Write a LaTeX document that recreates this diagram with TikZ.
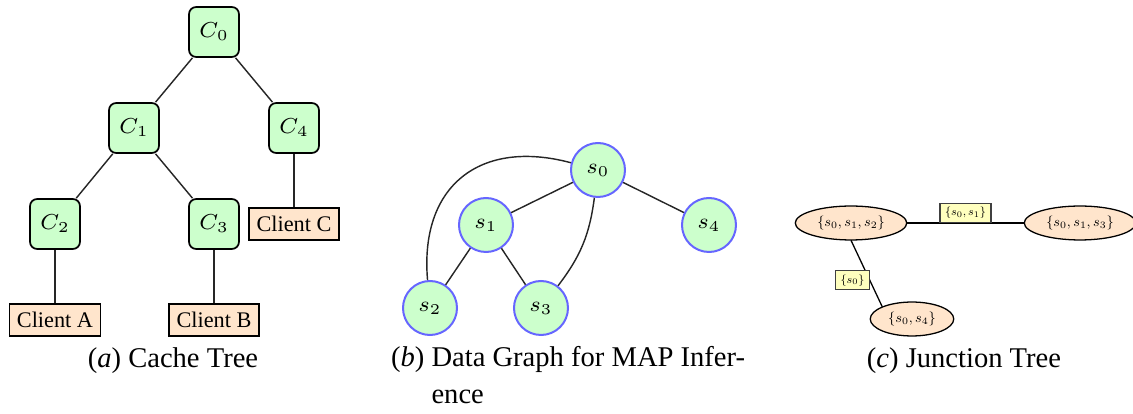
\RequirePackage{fix-cm}
\documentclass[tikz,border=0pt]{standalone}
\usepackage{fontspec}
\setmainfont{Liberation Serif}
\usetikzlibrary{shapes.geometric}

\begin{document}
\begin{tikzpicture}[x=0.35pt, y=-0.35pt,
  cache/.style={draw, semithick, rounded corners=2.5pt, fill=cachefill,
    minimum size=17.5pt, inner sep=0pt, font=\fontsize{7.6}{9}\selectfont},
  client/.style={draw, semithick, fill=clientfill, minimum height=11pt,
    inner xsep=2.6pt, inner ysep=0pt, font=\fontsize{7.8}{9}\selectfont},
  var/.style={circle, draw=varline, line width=0.7pt, fill=cachefill,
    minimum size=18.9pt, inner sep=0pt, font=\fontsize{7.5}{9}\selectfont},
  clique/.style={ellipse, draw, line width=0.45pt, fill=clientfill,
    scale=0.5, transform shape, inner xsep=4pt, inner ysep=3.5pt,
    font=\fontsize{9.8}{11}\selectfont},
  sepset/.style={draw=black!75, line width=0.4pt, fill=sepfill,
    scale=0.5, transform shape, inner xsep=3.6pt, inner ysep=2.7pt,
    font=\fontsize{8}{9}\selectfont},
  edge/.style={line width=0.5pt, black!85},
  caption/.style={font=\fontsize{10}{13}\selectfont, anchor=base}]
  \definecolor{cachefill}{RGB}{204,255,204}
  \definecolor{clientfill}{RGB}{255,229,204}
  \definecolor{sepfill}{RGB}{255,255,190}
  \definecolor{varline}{RGB}{102,102,255}

  \useasboundingbox (0,0) rectangle (1133,414);

  % cache tree
  \node[cache] (c0) at (214,32) {$C_0$};
  \node[cache] (c1) at (134,128) {$C_1$};
  \node[cache] (c4) at (294,128) {$C_4$};
  \node[cache] (c2) at (55,224) {$C_2$};
  \node[cache] (c3) at (214,224) {$C_3$};
  \node[client] (clientc) at (294,224) {Client C};
  \node[client] (clienta) at (55,320) {Client A};
  \node[client] (clientb) at (214,320) {Client B};

  \draw[edge] (c0) -- (c1);
  \draw[edge] (c0) -- (c4);
  \draw[edge] (c1) -- (c2);
  \draw[edge] (c1) -- (c3);
  \draw[edge] (c2) -- (clienta);
  \draw[edge] (c3) -- (clientb);
  \draw[edge] (c4) -- (clientc);

  \node[caption] (capa) at (173,368) {(\textit{a}) Cache Tree};

  % data graph
  \node[var] (s0) at (598,170) {$s_0$};
  \node[var] (s1) at (486,225) {$s_1$};
  \node[var] (s4) at (709,225) {$s_4$};
  \node[var] (s2) at (430,308) {$s_2$};
  \node[var] (s3) at (541,308) {$s_3$};

  \draw[edge] (s0) -- (s1);
  \draw[edge] (s0) -- (s4);
  \draw[edge] (s1) -- (s2);
  \draw[edge] (s1) -- (s3);
  \draw[edge] (s0) to[bend left=15] (s3);
  \draw[edge] (s0) to[out=165, in=95, looseness=1.3] (s2);

  \node[caption, anchor=base west, align=left] (capb) at (381,404)
    {(\textit{b}) Data Graph for MAP Infer-\\\hphantom{(\textit{b})\ }ence};

  % junction tree
  \node[clique] (j012) at (851,223) {$\{s_0, s_1, s_2\}$};
  \node[clique] (j013) at (1080,223) {$\{s_0, s_1, s_3\}$};
  \node[clique] (j04) at (912,319) {$\{s_0, s_4\}$};

  \draw[line width=0.45pt] (j012) -- node[sepset, midway, above] (sep01) {$\{s_0, s_1\}$} (j013);
  \draw[line width=0.45pt] (j012.south) -- node[sepset, pos=0.6, left] (sep0) {$\{s_0\}$} (j04.north west);

  \node[caption] (capc) at (964,368) {(\textit{c}) Junction Tree};

\end{tikzpicture}
\end{document}
